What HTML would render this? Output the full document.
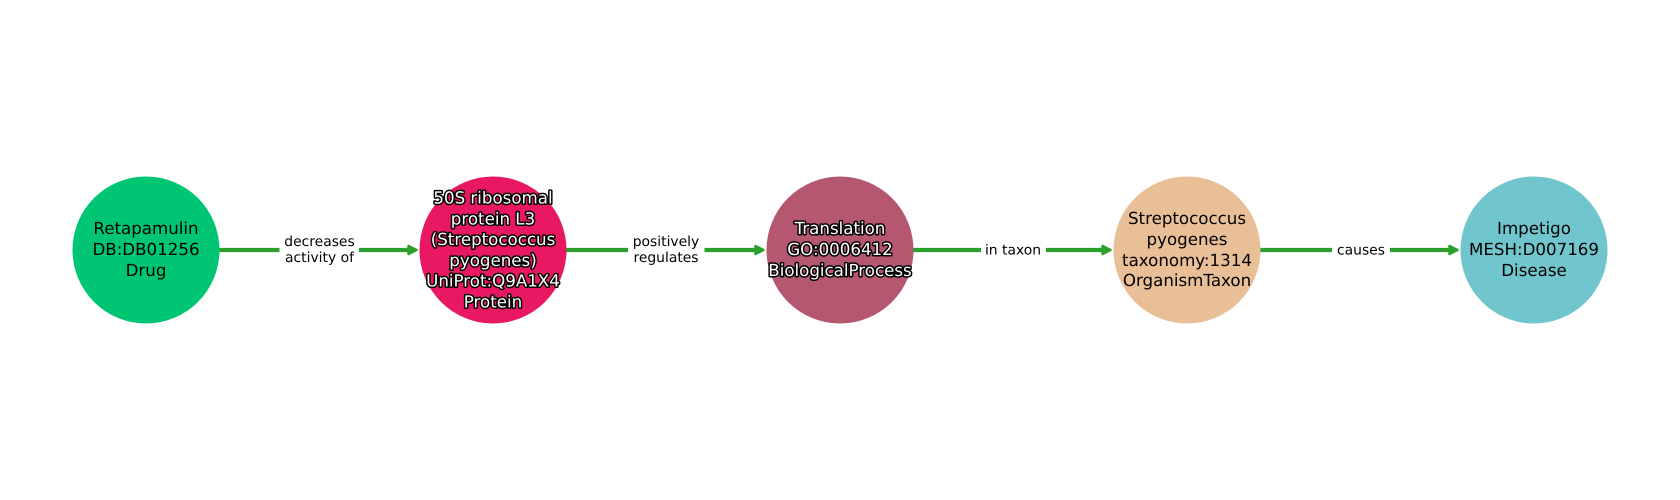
<!DOCTYPE html>
<html><head><meta charset="utf-8"><style>
html,body{margin:0;padding:0;background:#fff}
svg{display:block}
text{font-family:"DejaVu Sans",sans-serif;text-anchor:middle;text-rendering:geometricPrecision}
.n{font-size:16.67px;fill:#000}
.w{font-size:16.67px;fill:#fff;stroke:#000;stroke-width:3px;paint-order:stroke fill;stroke-linejoin:round}
.e{font-size:13.89px;fill:#000}
</style></head><body>
<svg width="1680" height="500" viewBox="0 0 1680 500" xmlns="http://www.w3.org/2000/svg">
<g stroke="#2ca02c" stroke-width="4.2" fill="none">
<path d="M219 250H279.500M359 250H410"/>
<path d="M566 250H628M704.500 250H757"/>
<path d="M913 250H981M1046 250H1104"/>
<path d="M1260 250H1332M1390 250H1451"/>
</g>
<g fill="#2ca02c" stroke="#2ca02c" stroke-width="2.5" stroke-linejoin="round">
<path d="M408.500 246L416.500 250L408.500 254Z"/>
<path d="M755.500 246L763.500 250L755.500 254Z"/>
<path d="M1102.500 246L1110.500 250L1102.500 254Z"/>
<path d="M1449.500 246L1457.500 250L1449.500 254Z"/>
</g>
<circle cx="146" cy="250" r="73.500" fill="#00c573"/>
<circle cx="493" cy="250" r="73.500" fill="#e91863"/>
<circle cx="840" cy="250" r="73.500" fill="#b5586f"/>
<circle cx="1187" cy="250" r="73.500" fill="#e9bf97"/>
<circle cx="1534" cy="250" r="73.500" fill="#70c6cc"/>
<g class="n">
<text class="n" x="146" y="234">Retapamulin</text>
<text class="n" x="146" y="255">DB:DB01256</text>
<text class="n" x="146" y="276">Drug</text>
<text class="n" x="1187" y="224">Streptococcus</text>
<text class="n" x="1187" y="245">pyogenes</text>
<text class="n" x="1187" y="266">taxonomy:1314</text>
<text class="n" x="1187" y="286">OrganismTaxon</text>
<text class="n" x="1534" y="234">Impetigo</text>
<text class="n" x="1534" y="255">MESH:D007169</text>
<text class="n" x="1534" y="276">Disease</text>
</g>
<text class="w" x="493" y="203.500">50S ribosomal</text>
<text class="w" x="493" y="224.500">protein L3</text>
<text class="w" x="493" y="245">(Streptococcus</text>
<text class="w" x="493" y="266">pyogenes)</text>
<text class="w" x="493" y="286.500">UniProt:Q9A1X4</text>
<text class="w" x="493" y="307.500">Protein</text>
<text class="w" x="840" y="234">Translation</text>
<text class="w" x="840" y="255">GO:0006412</text>
<text class="w" x="840" y="276">BiologicalProcess</text>
<text class="e" x="319.500" y="246">decreases</text>
<text class="e" x="319.500" y="262">activity of</text>
<text class="e" x="666" y="246">positively</text>
<text class="e" x="666" y="262">regulates</text>
<text class="e" x="1013" y="254.500">in taxon</text>
<text class="e" x="1361" y="254.500">causes</text>
</svg>
</body></html>
